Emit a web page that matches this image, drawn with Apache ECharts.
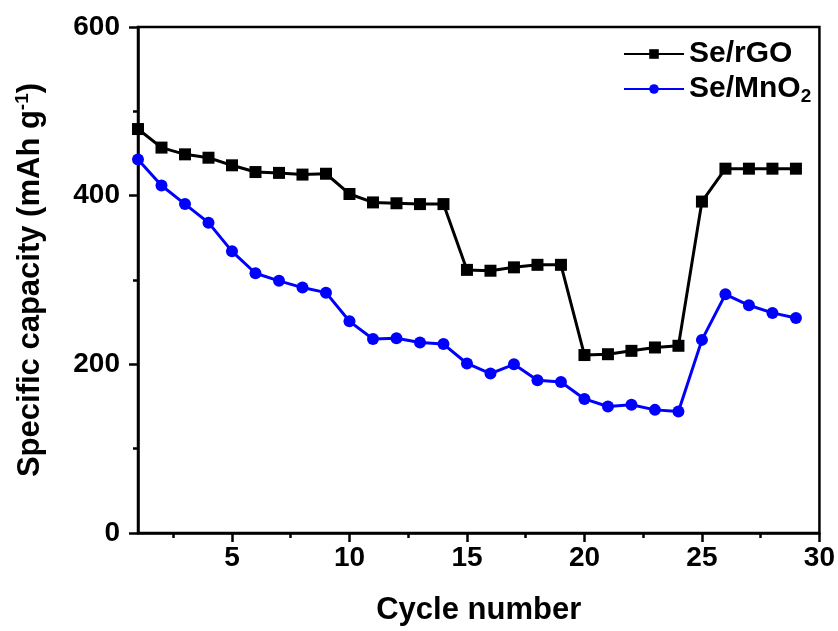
<!DOCTYPE html>
<html>
<head>
<meta charset="utf-8">
<script src="https://cdn.jsdelivr.net/npm/echarts@6/dist/echarts.min.js"></script>
<style>html,body{margin:0;padding:0;background:#fff}#c{width:838px;height:631px}</style>
</head>
<body>
<div id="c"></div>
<script>
const cycles = [1,2,3,4,5,6,7,8,9,10,11,12,13,14,15,16,17,18,19,20,21,22,23,24,25,26,27,28,29];
const seRGO = [479,457,449,445,436,428,427,425,426,402,392,391,390,390,312,311,315,318,318,211,212,216,220,222,393,432,432,432,432];
const seMnO2 = [443,412,390,368,334,308,299,291,285,251,230,231,226,224,201,189,200,181,179,159,150,152,146,144,229,283,270,261,255];
const xMajorTicks = [5,10,15,20,25,30];
const xMinorTicks = [2.5,7.5,12.5,17.5,22.5,27.5];
const yTickLabels = [0,200,400,600];

const font = '"Liberation Sans", Arial, sans-serif';
const chart = echarts.init(document.getElementById('c'));
chart.setOption({
  animation: false,
  backgroundColor: '#fff',
  grid: {left: 138, right: 18, top: 27, bottom: 98, show: true, borderColor: '#000', borderWidth: 2.5, backgroundColor: 'transparent'},
  legend: {
    orient: 'vertical', left: 618, top: 34, itemWidth: 60, itemHeight: 12, itemGap: 5,
    textStyle: {fontFamily: font, fontWeight: 'bold', fontSize: 30, color: '#000',
      rich: {sub: {fontFamily: font, fontWeight: 'bold', fontSize: 19, verticalAlign: 'bottom', padding: [16,0,0,0]}}},
    formatter: n => n === 'Se/MnO2' ? 'Se/MnO{sub|2}' : n,
    data: ['Se/rGO', 'Se/MnO2']
  },
  xAxis: [{
    type: 'value', min: 1, max: 30, position: 'bottom',
    axisLine: {show: true, lineStyle: {color: '#000', width: 2.5}},
    axisTick: {show: true, inside: false, length: 9, lineStyle: {color: '#000', width: 2.5}, customValues: xMajorTicks},
    axisLabel: {fontFamily: font, fontWeight: 'bold', fontSize: 28, color: '#000', margin: 11, customValues: xMajorTicks},
    splitLine: {show: false},
    name: 'Cycle number', nameLocation: 'middle', nameGap: 62,
    nameTextStyle: {fontFamily: font, fontWeight: 'bold', fontSize: 31, color: '#000'}
  }, {
    type: 'value', min: 1, max: 30, position: 'bottom', offset: 0,
    axisLine: {show: false},
    axisTick: {show: true, length: 5, lineStyle: {color: '#000', width: 2.5}, customValues: xMinorTicks},
    axisLabel: {show: false},
    splitLine: {show: false}
  }],
  yAxis: {
    type: 'value', min: 0, max: 600, interval: 200,
    axisLine: {show: true, lineStyle: {color: '#000', width: 2.5}},
    axisTick: {show: true, length: 9, lineStyle: {color: '#000', width: 2.5}},
    minorTick: {show: true, splitNumber: 2, length: 5, lineStyle: {color: '#000', width: 2.5}},
    axisLabel: {fontFamily: font, fontWeight: 'bold', fontSize: 28, color: '#000', margin: 18},
    splitLine: {show: false}, minorSplitLine: {show: false},
    name: 'Specific capacity (mAh g{sup|-1})', nameLocation: 'middle', nameGap: 90, nameRotate: 90,
    nameTextStyle: {fontFamily: font, fontWeight: 'bold', fontSize: 31, color: '#000',
      rich: {sup: {fontFamily: font, fontWeight: 'bold', fontSize: 19, verticalAlign: 'top', padding: [0,0,16,0]}}}
  },
  series: [{
    name: 'Se/rGO', type: 'line', xAxisIndex: 0,
    data: cycles.map((c, i) => [c, seRGO[i]]),
    symbol: 'rect', symbolSize: 12,
    lineStyle: {color: '#000', width: 3}, itemStyle: {color: '#000'}
  }, {
    name: 'Se/MnO2', type: 'line', xAxisIndex: 0,
    data: cycles.map((c, i) => [c, seMnO2[i]]),
    symbol: 'circle', symbolSize: 12,
    lineStyle: {color: '#0000ff', width: 3}, itemStyle: {color: '#0000ff'}
  }]
});
</script>
</body>
</html>
